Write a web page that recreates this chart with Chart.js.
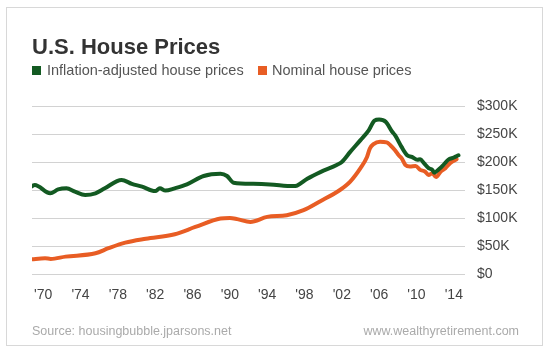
<!DOCTYPE html>
<html>
<head>
<meta charset="utf-8">
<script src="https://cdn.jsdelivr.net/npm/chart.js@4/dist/chart.umd.min.js"></script>
<style>
  html, body { margin:0; padding:0; background:#fff; }
  #wrap { position:relative; width:550px; height:357px; overflow:hidden; font-family:"Liberation Sans", Arial, sans-serif; }
  #card { position:absolute; left:6px; top:7px; width:537px; height:339px; border:1px solid #d8d8d8; box-sizing:border-box; }
  canvas { position:absolute; left:0; top:0; }
  .txt { position:absolute; white-space:nowrap; }
  #title { left:32px; top:36px; font-size:22px; line-height:22px; font-weight:bold; color:#333; }
  .leg { top:63px; font-size:14.5px; line-height:15px; color:#555; }
  .sq { position:absolute; top:66px; width:9px; height:9px; }
  .foot { top:325px; font-size:12.5px; line-height:13px; color:#aaa; }
</style>
</head>
<body>
<div id="wrap">
  <div id="card"></div>
  <canvas id="c" width="550" height="357"></canvas>
  <div id="title" class="txt">U.S. House Prices</div>
  <div class="sq" style="left:32px;background:#135a22"></div>
  <div class="txt leg" style="left:47px">Inflation-adjusted house prices</div>
  <div class="sq" style="left:258px;background:#e85d24"></div>
  <div class="txt leg" style="left:272px">Nominal house prices</div>
  <div class="txt foot" style="left:32px">Source: housingbubble.jparsons.net</div>
  <div class="txt foot" style="right:31px">www.wealthyretirement.com</div>
</div>
<script>
// Inflation-adjusted house prices ($K)
const realYears = [1968.7,1969.1,1970.75,1971.6,1972.5,1973.4,1974.5,1975.6,1976.6,1978.4,1979.5,1980.6,1982.0,1982.5,1983.1,1984.1,1985.4,1987.2,1989.0,1989.7,1990.4,1992.5,1994.3,1996.8,1997.2,1998.3,1999.7,2001.5,2002.0,2002.9,2004.0,2004.9,2005.5,2006.0,2006.7,2007.4,2007.7,2008.4,2009.0,2009.5,2010.1,2010.4,2010.8,2011.3,2011.7,2011.9,2012.4,2012.9,2013.4,2014.0,2014.5];
const realPrices = [156,159,144,151,153,147,141,144,153,168,161,156,148,153,149,153,160,175,179,175,163,161,160,157,158,170,182,195,200,218,239,257,274,276,272,254,248,227,212,209,204,205,198,189,186,181,187,195,204,208,212];
// Nominal house prices ($K)
const nominalYears = [1968.7,1970.2,1970.8,1972.4,1975.6,1977.0,1978.8,1981.0,1984.1,1986.3,1989.0,1990.0,1990.8,1992.2,1994.0,1996.1,1997.9,1999.7,2001.8,2002.9,2004.0,2004.7,2005.0,2005.4,2006.1,2006.8,2007.2,2007.7,2008.1,2008.4,2008.8,2009.3,2009.9,2010.4,2010.9,2011.3,2011.7,2012.1,2012.6,2013.1,2013.6,2014.3];
const nominalPrices = [26,28,27,31,37,46,56,63,71,84,99,100,98,93,102,105,114,130,150,165,189,209,224,232,236,235,230,221,212,207,195,192,193,186,183,177,180,173,183,189,198,205];
// Axis ticks
const xTickYears = [1970,1974,1978,1982,1986,1990,1994,1998,2002,2006,2010,2014];
const yTickValues = [0,50,100,150,200,250,300];

const toPts = (xs, ys) => xs.map((x, i) => ({x: x, y: ys[i]}));

new Chart(document.getElementById('c'), {
  type: 'line',
  data: {
    datasets: [
      { label: 'Inflation-adjusted house prices', data: toPts(realYears, realPrices),
        borderColor: '#135a22', borderWidth: 4, pointRadius: 0, cubicInterpolationMode: 'monotone',
        borderJoinStyle: 'round', borderCapStyle: 'round', fill: false },
      { label: 'Nominal house prices', data: toPts(nominalYears, nominalPrices),
        borderColor: '#e85d24', borderWidth: 4, pointRadius: 0, cubicInterpolationMode: 'monotone',
        borderJoinStyle: 'round', borderCapStyle: 'round', fill: false }
    ]
  },
  options: {
    responsive: false,
    animation: false,
    devicePixelRatio: 1,
    layout: { padding: { left: 32, top: 106, right: 0, bottom: 0 } },
    plugins: { legend: { display: false }, tooltip: { enabled: false }, title: { display: false } },
    scales: {
      x: {
        type: 'linear', min: 1968.8, max: 2015.2,
        afterBuildTicks: s => { s.ticks = xTickYears.map(v => ({value: v})); },
        afterFit: s => { s.height = 83; },
        grid: { display: false, drawTicks: false },
        border: { display: false },
        ticks: { padding: 13, color: '#444', font: { family: '"Liberation Sans", Arial, sans-serif', size: 14 },
          maxRotation: 0, autoSkip: false,
          callback: v => "'" + String(v).slice(2) }
      },
      y: {
        type: 'linear', position: 'right', min: 0, max: 300,
        afterBuildTicks: s => { s.ticks = yTickValues.map(v => ({value: v})); },
        afterFit: s => { s.width = 85; },
        grid: { color: '#d2d2d2', lineWidth: 1, drawTicks: false },
        border: { display: false },
        ticks: { padding: 12, color: '#444', font: { family: '"Liberation Sans", Arial, sans-serif', size: 14 },
          callback: v => v === 0 ? '$0' : '$' + v + 'K' }
      }
    }
  }
});
</script>
</body>
</html>
